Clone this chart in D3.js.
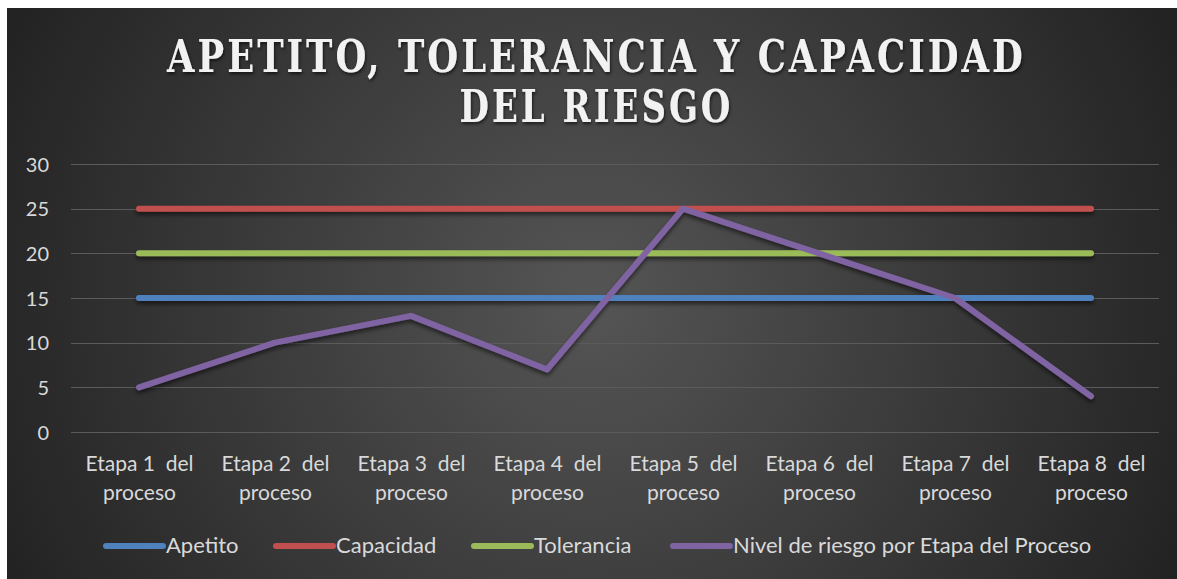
<!DOCTYPE html>
<html>
<head>
<meta charset="utf-8">
<script src="https://cdn.jsdelivr.net/npm/d3@7"></script>
<style>
  html, body { margin: 0; padding: 0; background: #ffffff; }
  svg { display: block; }
</style>
</head>
<body>
<script>
// ---- Data ----
const categories = ["Etapa 1  del|proceso", "Etapa 2  del|proceso", "Etapa 3  del|proceso", "Etapa 4  del|proceso",
                    "Etapa 5  del|proceso", "Etapa 6  del|proceso", "Etapa 7  del|proceso", "Etapa 8  del|proceso"];
const apetito    = [15, 15, 15, 15, 15, 15, 15, 15];
const capacidad  = [25, 25, 25, 25, 25, 25, 25, 25];
const tolerancia = [20, 20, 20, 20, 20, 20, 20, 20];
const nivel      = [5, 10, 13, 7, 25, 20, 15, 4];
const yTicks     = [0, 5, 10, 15, 20, 25, 30];
const seriesNames = ["Apetito", "Capacidad", "Tolerancia", "Nivel de riesgo por Etapa del Proceso"];
const titleLines = ["APETITO, TOLERANCIA Y CAPACIDAD", "DEL RIESGO"];

const series = [
  { name: seriesNames[0], values: apetito,    color: "#4f81bd" },
  { name: seriesNames[1], values: capacidad,  color: "#c0504d" },
  { name: seriesNames[2], values: tolerancia, color: "#9bbb59" },
  { name: seriesNames[3], values: nivel,      color: "#8064a2" }
];

const W = 1177, H = 579;
const svg = d3.select("body").append("svg").attr("width", W).attr("height", H);
const defs = svg.append("defs");

const grad = defs.append("radialGradient").attr("id", "bg")
  .attr("gradientUnits", "userSpaceOnUse")
  .attr("cx", 590).attr("cy", 300).attr("r", 640);
grad.append("stop").attr("offset", "0%").attr("stop-color", "#555555");
grad.append("stop").attr("offset", "100%").attr("stop-color", "#232323");

const sh = defs.append("filter").attr("id", "shadow")
  .attr("x", "-10%").attr("y", "-50%").attr("width", "120%").attr("height", "200%");
sh.append("feDropShadow").attr("dx", 0).attr("dy", 3).attr("stdDeviation", 2)
  .attr("flood-color", "#000").attr("flood-opacity", 0.55);

const tsh = defs.append("filter").attr("id", "tshadow")
  .attr("x", "-5%").attr("y", "-20%").attr("width", "110%").attr("height", "150%");
tsh.append("feDropShadow").attr("dx", 1).attr("dy", 2).attr("stdDeviation", 1.5)
  .attr("flood-color", "#000").attr("flood-opacity", 0.6);

// Chart area background
svg.append("rect").attr("x", 7).attr("y", 8).attr("width", W - 7).attr("height", H - 8)
  .attr("fill", "url(#bg)");

// ---- Title ----
const title = svg.append("g").attr("filter", "url(#tshadow)");
function titleLine(str, cx, baseline, targetW, gap) {
  const g = title.append("g");
  const t = g.append("text").attr("x", 0).attr("y", 0)
    .attr("font-family", "'DejaVu Serif', serif").attr("font-weight", "bold")
    .attr("font-size", 44).attr("fill", "#f2f2f2")
    .text(str);
  const w0 = t.node().getComputedTextLength();
  const n = str.length - 1;
  const sx = (targetW - n * gap) / w0;
  t.attr("letter-spacing", gap / sx);
  const w1 = t.node().getComputedTextLength() - gap / sx; // drop trailing spacing
  g.attr("transform", `translate(${cx - (w1 * sx) / 2},${baseline}) scale(${sx},1)`);
}
titleLine(titleLines[0], 595, 72, 856, 3);
titleLine(titleLines[1], 595, 122, 271, 3);

// ---- Scales ----
const x = d3.scalePoint().domain(categories).range([71, 1159]).padding(0.5);
const y = d3.scaleLinear().domain([0, 30]).range([432, 164]);

// Gridlines
svg.append("g").selectAll("line").data(yTicks).join("line")
  .attr("x1", 71).attr("x2", 1159)
  .attr("y1", d => Math.round(y(d)) + 0.5).attr("y2", d => Math.round(y(d)) + 0.5)
  .attr("stroke", "#5b5b5b").attr("stroke-width", 1);

// Y axis
const yAxis = svg.append("g").attr("transform", "translate(49,0)")
  .call(d3.axisLeft(y).tickValues(yTicks).tickSize(0).tickPadding(0));
yAxis.select(".domain").remove();
yAxis.selectAll("text").attr("font-family", "Lato, 'Open Sans', sans-serif")
  .attr("font-size", 20).attr("fill", "#d9d9d9").attr("dy", "0.36em");

// X axis labels
const xAxis = svg.append("g").attr("transform", "translate(0,432)")
  .call(d3.axisBottom(x).tickSize(0).tickFormat(""));
xAxis.select(".domain").remove();
xAxis.selectAll(".tick").each(function(d) {
  const lines = d.split("|");
  const t = d3.select(this).append("text")
    .attr("text-anchor", "middle")
    .attr("font-family", "Lato, 'Open Sans', sans-serif")
    .attr("font-size", 21).attr("fill", "#d9d9d9")
    .style("white-space", "pre");
  lines.forEach((ln, i) => {
    t.append("tspan").attr("x", 0).attr("y", 39 + i * 29).text(ln);
  });
});

// ---- Lines ----
const line = d3.line().x((d, i) => x(categories[i])).y(d => y(d));
svg.append("g").attr("filter", "url(#shadow)").selectAll("path").data(series).join("path")
  .attr("d", d => line(d.values))
  .attr("fill", "none").attr("stroke", d => d.color)
  .attr("stroke-width", 6).attr("stroke-linecap", "round").attr("stroke-linejoin", "round");

// ---- Legend ----
const legendX = [106, 276, 474, 673];
const leg = svg.append("g");
series.forEach((s, i) => {
  leg.append("line").attr("x1", legendX[i]).attr("x2", legendX[i] + 57)
    .attr("y1", 546).attr("y2", 546)
    .attr("stroke", s.color).attr("stroke-width", 6).attr("stroke-linecap", "round");
  leg.append("text").attr("x", legendX[i] + 60).attr("y", 553)
    .attr("font-family", "Lato, 'Open Sans', sans-serif")
    .attr("font-size", 22).attr("fill", "#d9d9d9")
    .text(s.name);
});
</script>
</body>
</html>
